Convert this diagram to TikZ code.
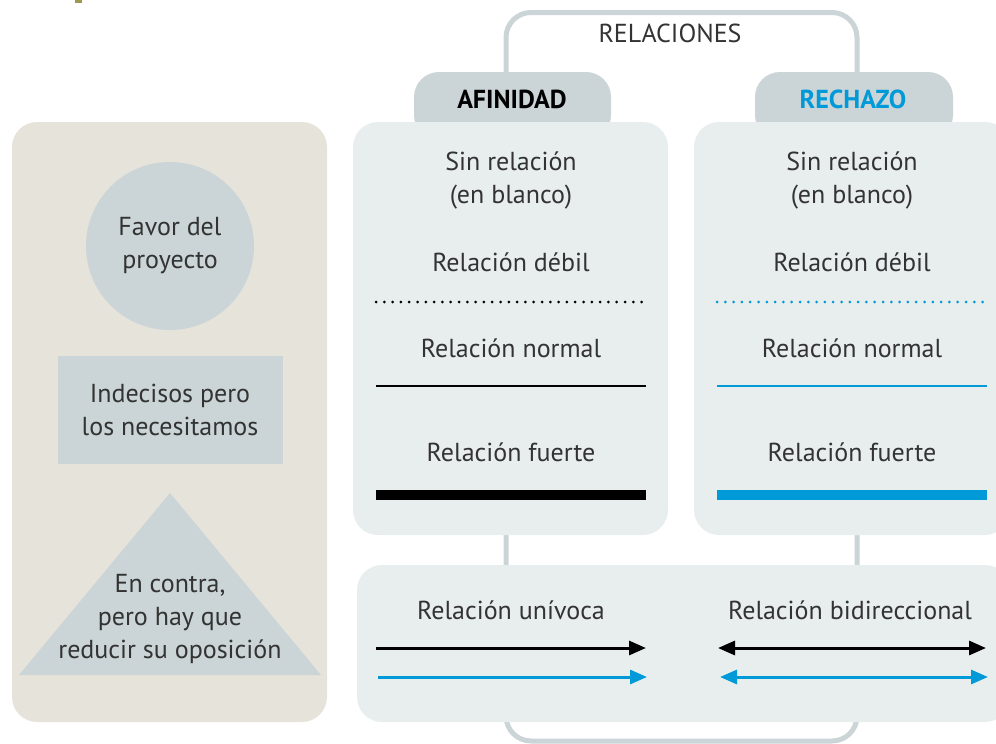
\documentclass[tikz,border=0pt]{standalone}
\usepackage{fontspec}
\setmainfont{PT Sans}
\usetikzlibrary{arrows.meta}

\definecolor{beige}{HTML}{E6E4DA}
\definecolor{greyblue}{HTML}{CBD4D7}
\definecolor{panelgrey}{HTML}{E8EEEE}
\definecolor{rejblue}{HTML}{009AD8}
\definecolor{textgrey}{HTML}{333333}
\definecolor{olive}{HTML}{9D9A4E}

\tikzset{
  txt/.style={font=\fontsize{13}{16.5}\selectfont, text=textgrey, align=center, inner sep=0pt},
  head/.style={font=\fontsize{13}{16.5}\selectfont\bfseries, align=center, inner sep=0pt},
  panel/.style={fill=panelgrey, rounded corners=12.5pt},
  tab/.style={fill=greyblue, rounded corners=12.5pt},
  bracket/.style={draw=greyblue, line width=2.5pt, rounded corners=12.5pt},
  dotline/.style={line width=1.5pt, line cap=round, dash pattern=on 0pt off 4.15pt},
  normline/.style={line width=1.2pt},
  strongline/.style={line width=5pt},
  sample/.style={line width=1.5pt, -{Triangle[length=8.5pt,width=7pt]}},
  bisample/.style={line width=1.5pt, {Triangle[length=8.5pt,width=7pt]}-{Triangle[length=8.5pt,width=7pt]}},
}

\begin{document}
\begin{tikzpicture}[x=0.5pt,y=-0.5pt]
        \useasboundingbox (0,0) rectangle (996,744);
        \clip (0,0) rectangle (996,744);
        \fill[olive] (75,0) rectangle (82,3);

        % actores
        \fill[beige, rounded corners=12.5pt] (12,122) rectangle (327,722);
        \node[circle, fill=greyblue, minimum size=84pt, txt] (favor) at (170,246) {Favor del\\proyecto};
        \node[fill=greyblue, minimum width=112.5pt, minimum height=54pt, txt] (indecisos) at (170,410) {Indecisos pero\\los necesitamos};
        \fill[greyblue] (170,493) coordinate (tricima) -- (321,675) -- (19,675) -- cycle;
        \node[txt] (contra) at (170,619) {En contra,\\pero hay que\\reducir su oposición};

        % corchetes
        \draw[bracket] (506,90) -- (506,12.5) -- (857,12.5) -- (857,90);
        \draw[bracket] (506,530) -- (506,741) -- (857,741) -- (857,530);
        \node[txt] (relaciones) at (670,33) {RELACIONES};

        % pestañas
        \fill[tab] (414,140) rectangle (611,72);
        \fill[tab] (755,140) rectangle (953,72);
        \node[head] (afinidad) at (512,99) {AFINIDAD};
        \node[head, text=rejblue] (rechazo) at (853,99) {RECHAZO};

        % paneles
        \fill[panel] (353,122) rectangle (668,535);
        \fill[panel] (694,122) rectangle (1010,535);
        \fill[panel] (357,565) rectangle (1010,722);

        % afinidad
        \node[txt] (afinsin) at (511,180) {Sin relación\\(en blanco)};
        \node[txt] (afindeb) at (511,262) {Relación débil};
        \draw[dotline] (376,302) -- (647,302);
        \node[txt] (afinnorm) at (511,348) {Relación normal};
        \draw[normline] (376,386) -- (646,386);
        \node[txt] (afinfue) at (511,452) {Relación fuerte};
        \draw[strongline] (376,495) -- (646,495);

        % rechazo
        \node[txt] (rechsin) at (852,180) {Sin relación\\(en blanco)};
        \node[txt] (rechdeb) at (852,262) {Relación débil};
        \draw[dotline, rejblue] (717,302) -- (988,302);
        \node[txt] (rechnorm) at (852,348) {Relación normal};
        \draw[normline, rejblue] (717,386) -- (987,386);
        \node[txt] (rechfue) at (852,452) {Relación fuerte};
        \draw[strongline, rejblue] (717,495) -- (987,495);

        % direccion
        \node[txt] (univoca) at (511,610) {Relación unívoca};
        \node[txt] (bidir) at (850,610) {Relación bidireccional};
        \draw[sample] (376,648) -- (646,648);
        \draw[sample, rejblue] (378,677) -- (647,677);
        \draw[bisample] (718,648) -- (986,648);
        \draw[bisample, rejblue] (720,677) -- (988,677);
\end{tikzpicture}
\end{document}
